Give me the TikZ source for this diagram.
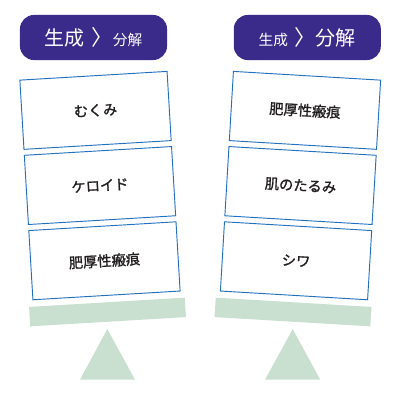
\documentclass[tikz,border=0pt]{standalone}
\usepackage{fontspec}
\setmainfont{Noto Sans CJK JP}
\newfontfamily\jpheavy{Noto Sans CJK JP}[FakeBold=1.4]
\usetikzlibrary{positioning}
\definecolor{BalPurple}{HTML}{3A2A8A}
\definecolor{BalBlue}{HTML}{2270C0}
\definecolor{BalGreen}{HTML}{C9E0D1}
\definecolor{BalText}{HTML}{231F20}
\newcommand{\bigjp}[1]{{\fontsize{15}{15}\selectfont #1}}
\newcommand{\smalljp}[1]{{\fontsize{11}{12}\selectfont #1}}
\newcommand{\chev}{\hspace{5pt}{\fontsize{16}{16}\selectfont 〉}}
\tikzset{
  balpill/.style={
    fill=BalPurple,
    rounded corners=10.5pt,
    minimum width=110.3pt,
    minimum height=33.8pt,
    inner sep=0pt,
    text=white
  },
  balbox/.style={
    draw=BalBlue,
    line width=0.7pt,
    fill=white,
    minimum width=110.6pt,
    minimum height=52pt,
    font=\jpheavy\fontsize{10.7}{12}\selectfont,
    text=BalText
  },
  balplank/.style={fill=BalGreen,minimum width=117pt,minimum height=14.6pt,inner sep=0pt},
  balbase/.style={fill=BalGreen}
}

\begin{document}
\begin{tikzpicture}[x=0.75pt,y=0.75pt]
  \useasboundingbox (0,0) rectangle (407,405);
  % headers
  \node[balpill] (pillL) at (93.5,367.5) {\bigjp{生成}\chev\smalljp{分解}};
  \node[balpill] (pillR) at (307.3,367.5) {\smalljp{生成}\chev\bigjp{分解}};
  % left scale
  \begin{scope}[shift={(107.5,93)},rotate=3.4,transform shape]
    \node[balplank] (plankL) at (0,0) {};
    \node[balbox] (mukumi) at (0,202) {むくみ};
    \node[balbox] (keloid) at (0,126.7) {ケロイド};
    \node[balbox] (hikoL) at (0,51.3) {肥厚性瘢痕};
  \end{scope}
  \fill[balbase] (80,25.3) -- (107.3,76) -- (135,25.3) -- cycle;
  % right scale
  \begin{scope}[shift={(293,93)},rotate=-3.4,transform shape]
    \node[balplank] (plankR) at (0,0) {};
    \node[balbox] (hikoR) at (0,202) {肥厚性瘢痕};
    \node[balbox] (tarumi) at (0,126.7) {肌のたるみ};
    \node[balbox] (shiwa) at (0,51.3) {シワ};
  \end{scope}
  \fill[balbase] (265,25.3) -- (292.7,76) -- (320.3,25.3) -- cycle;
\end{tikzpicture}
\end{document}
